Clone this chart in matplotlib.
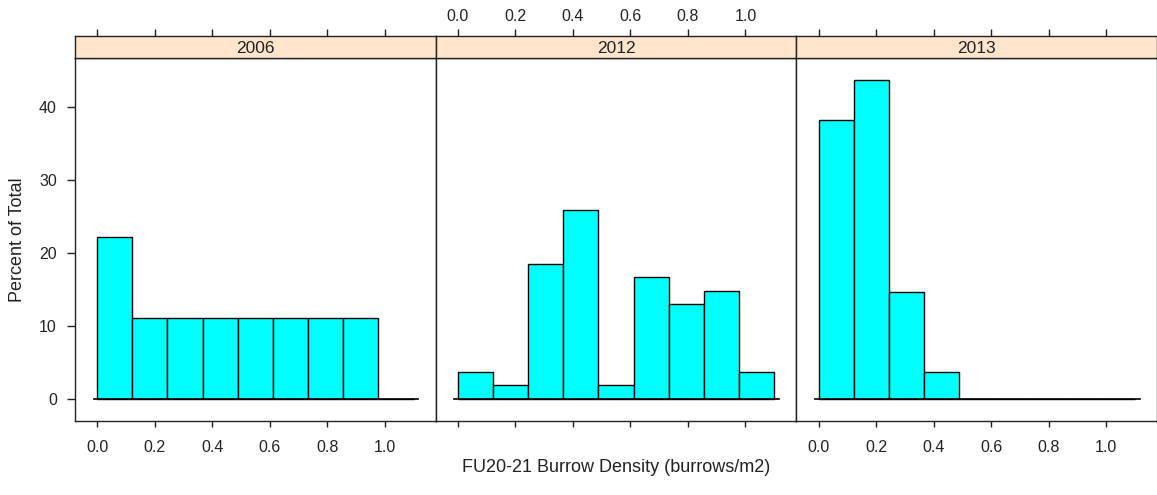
import numpy as np
import matplotlib
matplotlib.use("Agg")
import matplotlib.pyplot as plt

plt.rcParams['font.family'] = ['Liberation Sans', 'DejaVu Sans']

# histogram data (percent of total per bin)
years = ["2006", "2012", "2013"]
breaks = np.linspace(0.0, 1.1, 10)
pct_2006 = [22.2, 11.1, 11.1, 11.1, 11.1, 11.1, 11.1, 11.1, 0.0]
pct_2012 = [3.7, 1.85, 18.5, 25.9, 1.85, 16.7, 13.0, 14.8, 3.7]
pct_2013 = [38.2, 43.6, 14.55, 3.64, 0.0, 0.0, 0.0, 0.0, 0.0]
xticks = [0.0, 0.2, 0.4, 0.6, 0.8, 1.0]
xticklabels = ["0.0", "0.2", "0.4", "0.6", "0.8", "1.0"]
yticks = [0, 10, 20, 30, 40]

W, H = 1157, 495
fig = plt.figure(figsize=(W / 100, H / 100), dpi=100)

x0, pw = 75, 360.7
ptop, pbot = 58, 421
stop = 36
edge = '#222222'
txt = '#222222'
tfs = 11.5

xr = breaks[-1] - breaks[0]
xlim = (breaks[0] - 0.07 * xr, breaks[-1] + 0.07 * xr)
ymax = max(max(pct_2006), max(pct_2012), max(pct_2013))
ylim = (-0.07 * ymax, 1.07 * ymax)

data = [pct_2006, pct_2012, pct_2013]
for i, (yr, vals) in enumerate(zip(years, data)):
    left = (x0 + i * pw) / W
    ax = fig.add_axes([left, 1 - pbot / H, pw / W, (pbot - ptop) / H])
    ax.bar(breaks[:-1], vals, width=np.diff(breaks), align='edge',
           color='#00FFFF', edgecolor='black', linewidth=1.0, zorder=2)
    ax.plot([breaks[0] - 0.012, breaks[-1] + 0.016], [0, 0], color='black',
            lw=1.2, zorder=3)
    ax.set_xlim(xlim)
    ax.set_ylim(ylim)
    for s in ax.spines.values():
        s.set_color(edge)
        s.set_linewidth(1.0)
    ax.set_xticks(xticks)
    if i == 1:
        ax.set_xticklabels([])
    else:
        ax.set_xticklabels(xticklabels)
    ax.tick_params(axis='x', direction='out', length=4.5, width=1, color=edge,
                   labelsize=tfs, labelcolor=txt, pad=9.5)
    if i == 0:
        ax.set_yticks(yticks)
        ax.tick_params(axis='y', direction='out', length=6, width=1, color=edge,
                       labelsize=tfs, labelcolor=txt, pad=7)
    else:
        ax.set_yticks([])

    # strip on top
    sax = fig.add_axes([left, 1 - ptop / H, pw / W, (ptop - stop) / H])
    sax.set_facecolor('#FFE5CC')
    sax.set_xlim(xlim)
    sax.set_yticks([])
    sax.set_xticks(xticks)
    sax.xaxis.tick_top()
    if i == 1:
        sax.set_xticklabels(xticklabels)
    else:
        sax.set_xticklabels([])
    sax.tick_params(axis='x', direction='out', length=5, width=1, color=edge,
                    labelsize=tfs, labelcolor=txt, pad=3.5)
    for s in sax.spines.values():
        s.set_color(edge)
        s.set_linewidth(1.0)
    sax.text(0.5, 0.42, yr, transform=sax.transAxes, ha='center', va='center',
             fontsize=12.5, color=txt)

fig.text((x0 + 1.5 * pw) / W, 1 - 468 / H, "FU20-21 Burrow Density (burrows/m2)",
         ha='center', va='center', fontsize=13, color=txt)
fig.text(18 / W, 1 - 240 / H, "Percent of Total", rotation=90,
         ha='center', va='center', fontsize=13, color=txt)

fig.savefig("out.png", dpi=100)
